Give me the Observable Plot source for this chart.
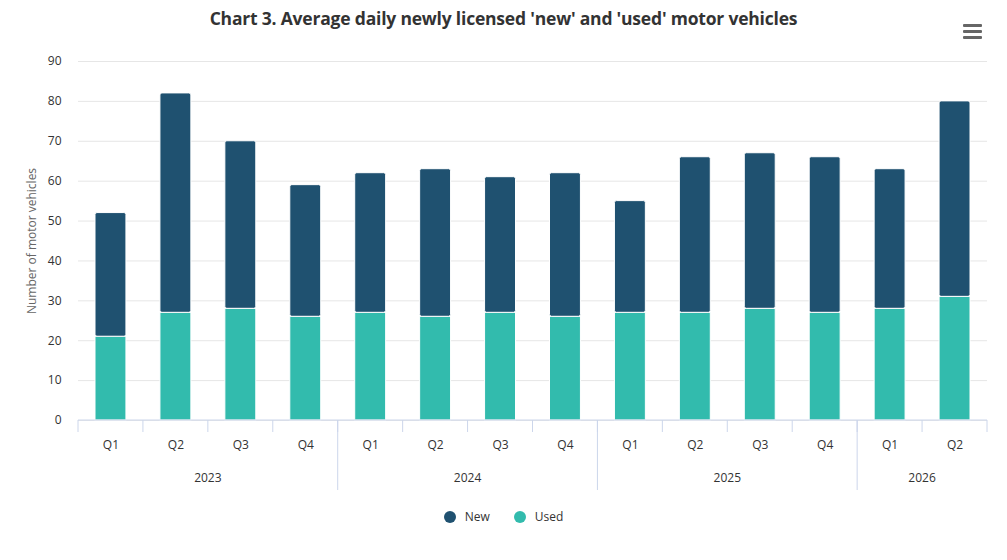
<!DOCTYPE html>
<html><head><meta charset="utf-8">
<script src="https://cdn.jsdelivr.net/npm/d3@7"></script>
<script src="https://cdn.jsdelivr.net/npm/@observablehq/plot@0.6"></script>
<style>
body{margin:0;background:#fff;font-family:"Open Sans",sans-serif;width:1007px;height:560px;position:relative;overflow:hidden}
#title{position:absolute;left:0;top:6px;width:1007px;text-align:center;font-size:17.5px;font-weight:bold;color:#333;letter-spacing:-0.2px}
#menu{position:absolute;left:963px;top:24px;width:19px}
#menu div{height:3px;background:#666;margin-bottom:3px;border-radius:1px}
#chart{position:absolute;left:0;top:40px}
#legend{position:absolute;left:0;top:508px;width:1007px;text-align:center;font-size:12px;color:#333}
#legend span.item{display:inline-block;margin:0 12px}
#legend span.dot{display:inline-block;width:12px;height:12px;border-radius:6px;vertical-align:-2px;margin-right:9px}
</style></head>
<body>
<div id="title">Chart 3. Average daily newly licensed 'new' and 'used' motor vehicles</div>
<div id="menu"><div></div><div></div><div></div></div>
<div id="chart"></div>
<div id="legend"></div>
<script>
const quarters = ["Q1","Q2","Q3","Q4","Q1","Q2","Q3","Q4","Q1","Q2","Q3","Q4","Q1","Q2"];
const years = ["2023","2023","2023","2023","2024","2024","2024","2024","2025","2025","2025","2025","2026","2026"];
const usedVals = [21,27,28,26,27,26,27,26,27,27,28,27,28,31];
const newVals = [31,55,42,33,35,37,34,36,28,39,39,39,35,49];
const yTicks = [0,10,20,30,40,50,60,70,80,90];
const seriesNames = ["New","Used"];
const colors = ["#1f5170","#32bbad"];

const rows = quarters.map((q, i) => ({
  key: years[i] + " " + q, quarter: q, year: years[i],
  used: usedVals[i], nw: newVals[i], total: usedVals[i] + newVals[i]
}));
const keys = rows.map(d => d.key);

// year groups
const groups = [];
rows.forEach((d, i) => {
  const g = groups[groups.length - 1];
  if (g && g.year === d.year) g.last = d.key; else groups.push({year: d.year, first: d.key, last: d.key});
});

const W = 1007, H = 460, mL = 78, mR = 20, mT = 21, mB = 80;
const axisColor = "#ccd6eb";

function decorations(index, scales, values, dims) {
  const x = scales.x, y = scales.y;
  const bw = x.bandwidth ? x.bandwidth() : (dims.width - dims.marginLeft - dims.marginRight) / keys.length;
  const y0 = y(0);
  const g = d3.create("svg:g");
  g.append("line").attr("x1", x(keys[0])).attr("x2", x(keys[keys.length-1]) + bw)
    .attr("y1", y0).attr("y2", y0).attr("stroke", axisColor).attr("stroke-width", 1);
  const bounds = keys.map(k => x(k)).concat([x(keys[keys.length-1]) + bw]);
  bounds.forEach(b => g.append("line").attr("x1", b).attr("x2", b).attr("y1", y0).attr("y2", y0 + 12)
    .attr("stroke", axisColor));
  groups.forEach((gr, i) => {
    if (i === 0) return;
    const b = x(gr.first);
    g.append("line").attr("x1", b).attr("x2", b).attr("y1", y0).attr("y2", y0 + 70).attr("stroke", axisColor);
  });
  groups.forEach(gr => {
    const cx = (x(gr.first) + x(gr.last) + bw) / 2;
    g.append("text").attr("x", cx).attr("y", y0 + 62).attr("text-anchor", "middle")
      .attr("fill", "#333").attr("font-size", 12).text(gr.year);
  });
  return g.node();
}

const plot = Plot.plot({
  width: W, height: H,
  marginLeft: mL, marginRight: mR, marginTop: mT, marginBottom: mB,
  style: {fontFamily: "'Open Sans', sans-serif", fontSize: "12px", color: "#333", background: "transparent"},
  x: {type: "band", domain: keys, padding: 0, round: false, label: null},
  y: {domain: [0, 90], label: null},
  marks: [
    Plot.gridY(yTicks, {stroke: "#e6e6e6", strokeOpacity: 1, strokeWidth: 1}),
    Plot.axisY(yTicks, {tickSize: 0, tickPadding: 17, fill: "#333", fontSize: 12, label: null}),
    Plot.text(["Number of motor vehicles"], {frameAnchor: "left", textAnchor: "middle", rotate: -90, dx: -46, fill: "#666", fontSize: 12}),
    Plot.barY(rows, {x: "key", y: "used", fill: colors[1], stroke: "#fff", strokeWidth: 1, insetLeft: 17, insetRight: 17}),
    Plot.barY(rows, {x: "key", y1: "used", y2: "total", fill: colors[0], stroke: "#fff", strokeWidth: 1, insetLeft: 17, insetRight: 17, rx: 2}),
    Plot.axisX({tickSize: 0, tickPadding: 20, tickFormat: k => k.split(" ")[1], fill: "#333", fontSize: 12, label: null}),
    decorations
  ]
});
document.getElementById("chart").appendChild(plot);

const lg = d3.select("#legend");
seriesNames.forEach((n, i) => {
  const it = lg.append("span").attr("class", "item");
  it.append("span").attr("class", "dot").style("background", colors[i]);
  it.append("span").text(n);
});
</script>
</body></html>
